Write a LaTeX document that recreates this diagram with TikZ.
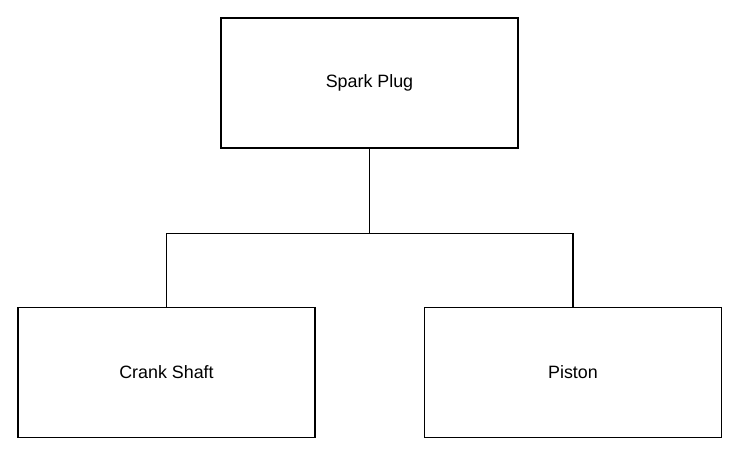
\documentclass[tikz,border=0pt]{standalone}
\usepackage{fontspec}
\setmainfont{Liberation Sans}
\usetikzlibrary{positioning,calc}

\tikzset{
  partbox/.style={draw,line width=1pt,minimum width=297*0.75pt,minimum height=130*0.75pt,inner sep=0pt},
  link/.style={line width=1pt}
}

\begin{document}
\begin{tikzpicture}[x=0.75pt,y=-0.75pt,font=\fontsize{13.4}{16}\selectfont]
    % page frame
    \useasboundingbox (0,0) rectangle (738,456);
    % the three parts
    \node[partbox] (plug) at (369.5,83) {Spark Plug};
    \node[partbox] (crank) at (166.5,372.5) {Crank Shaft};
    \node[partbox] (piston) at (573,372.5) {Piston};
    % tree connector
    \coordinate (split) at ($(plug.south)+(0,85)$);
    \draw[link] (plug.south) -- (split);
    \draw[link] (split) -| (crank.north);
    \draw[link] (split) -| (piston.north);
  \end{tikzpicture}
\end{document}
